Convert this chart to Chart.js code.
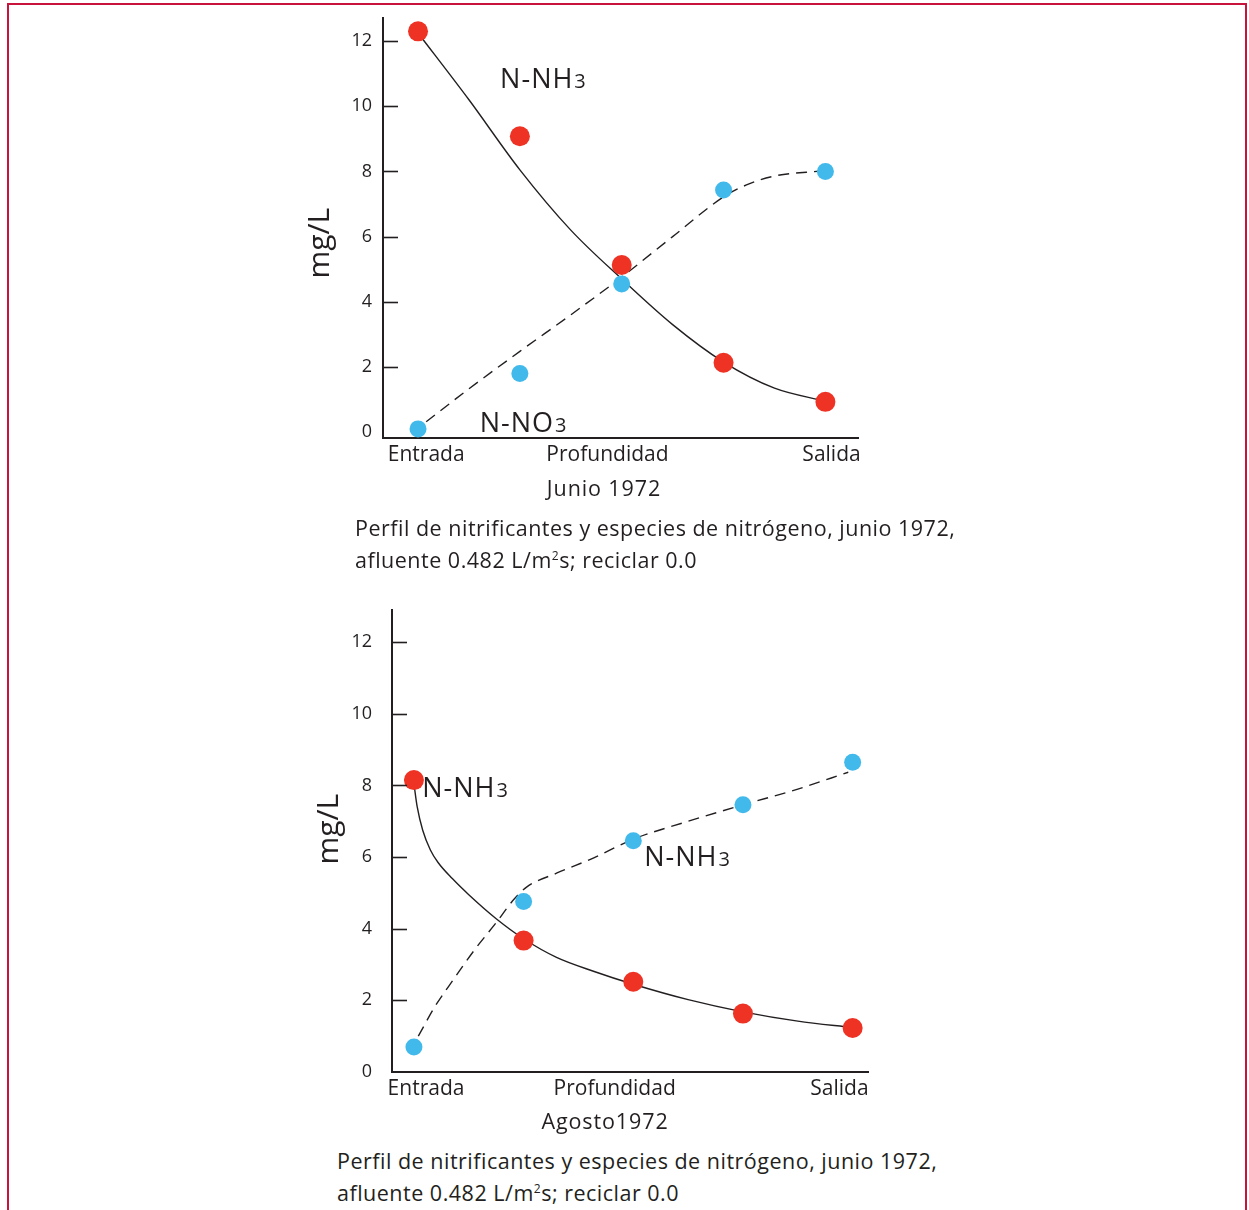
<!DOCTYPE html>
<html lang="es">
<head>
<meta charset="utf-8">
<title>Perfil de nitrificantes</title>
<script src="https://cdn.jsdelivr.net/npm/chart.js@4.4.1/dist/chart.umd.min.js"></script>
<style>
  html, body { margin: 0; padding: 0; background: #fff; width: 1249px; height: 1210px; overflow: hidden;
    font-family: 'Open Sans', 'Noto Sans', sans-serif; color: #231f20; }
  .frame { position: absolute; left: 7px; top: 3px; width: 1236px; height: 1300px; border: 2px solid #c8133c; }
  .panel { position: absolute; left: 0; width: 1249px; height: 520px; }
  .sub { position: absolute; font-size: 21.5px; letter-spacing: 0.9px; transform: translate(-50%, -50%); white-space: nowrap; }
  .cap { position: absolute; font-size: 21.5px; letter-spacing: 0.5px; line-height: 32px; white-space: nowrap; }
  .cap sup { font-size: 12px; vertical-align: 8px; line-height: 0; }
</style>
</head>
<body>
<div class="frame"></div>
<div class="panel" style="top:0"><canvas id="junio" width="1249" height="520"></canvas></div>
<div class="panel" style="top:591px"><canvas id="agosto" width="1249" height="520"></canvas></div>

<div class="sub" style="left:604px; top:487px">Junio 1972</div>
<div class="cap" style="left:355px; top:512px">Perfil de nitrificantes y especies de nitrógeno, junio 1972,<br>afluente 0.482 L/m<sup>2</sup>s; reciclar 0.0</div>

<div class="sub" style="left:605px; top:1120px">Agosto1972</div>
<div class="cap" style="left:337px; top:1145px">Perfil de nitrificantes y especies de nitrógeno, junio 1972,<br>afluente 0.482 L/m<sup>2</sup>s; reciclar 0.0</div>

<script>
// Sampling stations along the filter, inlet to outlet
const stations = [1, 2, 3, 4, 5];
const xTickLabels = ['Entrada', 'Profundidad', 'Salida'];
const yTickValues = [0, 2, 4, 6, 8, 10, 12];
const yAxisTitle = 'mg/L';

// June 1972 — measured concentrations (mg/L)
const junioNH3 = [12.3, 9.08, 5.13, 2.13, 0.93];
const junioNO3 = [0.1, 1.8, 4.55, 7.43, 8.0];
// June 1972 — hand-fitted trend curves
const junioNH3CurveX = [1, 1.5, 2, 2.5, 3, 3.5, 4, 4.5, 5];
const junioNH3CurveY = [12.25, 10.2, 8.05, 6.2, 4.7, 3.3, 2.15, 1.35, 0.95];
const junioNO3CurveX = [1.08, 1.5, 2, 2.5, 3, 3.5, 4, 4.25, 4.5, 4.97];
const junioNO3CurveY = [0.32, 1.33, 2.48, 3.6, 4.76, 6.0, 7.22, 7.62, 7.86, 8.02];

// August 1972 — measured concentrations (mg/L)
const agostoNH3 = [8.15, 3.67, 2.52, 1.63, 1.23];
const agostoNO3 = [0.7, 4.76, 6.46, 7.46, 8.65];
// August 1972 — hand-fitted trend curves
const agostoNH3CurveX = [1.0, 1.03, 1.08, 1.15, 1.22, 1.35, 1.5, 1.75, 2.0, 2.3, 2.65, 3.0, 3.5, 4.0, 4.5, 5.0];
const agostoNH3CurveY = [8.05, 7.4, 6.75, 6.2, 5.85, 5.4, 4.95, 4.28, 3.72, 3.2, 2.8, 2.45, 2.02, 1.68, 1.42, 1.24];
const agostoNO3CurveX = [1.04, 1.19, 1.36, 1.56, 1.76, 1.9, 2.03, 2.3, 2.64, 3.0, 3.5, 4.0, 4.5, 4.96];
const agostoNO3CurveY = [1.0, 1.82, 2.58, 3.44, 4.21, 4.78, 5.17, 5.55, 5.98, 6.5, 7.0, 7.46, 7.9, 8.37];

const INK = '#231f20';
const RED = '#ee3224';
const BLUE = '#41b9eb';
const FONT = "'Open Sans', 'Noto Sans', sans-serif";

// Inward y ticks, rotated y-axis title and in-plot species labels
const overlay = {
  id: 'overlay',
  afterDraw(chart, args, opts) {
    const { ctx, chartArea: ca, scales: { x, y } } = chart;
    ctx.save();
    ctx.strokeStyle = INK;
    ctx.lineWidth = 1.6;
    y.ticks.forEach(t => {
      if (t.value <= 0) return;
      const py = Math.round(y.getPixelForValue(t.value)) + 0.5;
      ctx.beginPath();
      ctx.moveTo(ca.left, py);
      ctx.lineTo(ca.left + opts.tickLength, py);
      ctx.stroke();
    });

    ctx.fillStyle = INK;
    ctx.save();
    ctx.translate(ca.left + opts.titleDx, y.getPixelForValue(opts.titleAt));
    ctx.rotate(-Math.PI / 2);
    ctx.font = `30px ${FONT}`;
    ctx.textAlign = 'center';
    ctx.textBaseline = 'middle';
    ctx.fillText(yAxisTitle, 0, 0);
    ctx.restore();

    ctx.textAlign = 'left';
    ctx.textBaseline = 'alphabetic';
    ctx.letterSpacing = '1px';
    opts.labels.forEach(l => {
      const px = x.getPixelForValue(l.x);
      const py = y.getPixelForValue(l.y);
      ctx.font = `27px ${FONT}`;
      ctx.fillText(l.main, px, py);
      const w = ctx.measureText(l.main).width;
      ctx.font = `20px ${FONT}`;
      ctx.fillText(l.small, px + w + 1, py);
    });
    ctx.restore();
  }
};

function pairs(xs, ys) {
  return xs.map((v, i) => ({ x: v, y: ys[i] }));
}

// Scales keep only the layout padding given in the options
function fixedBox(size, key) {
  return s => {
    s[key] = size;
    s.paddingTop = 0; s.paddingBottom = 0; s.paddingLeft = 0; s.paddingRight = 0;
  };
}

function makeChart(id, c) {
  return new Chart(document.getElementById(id), {
    type: 'scatter',
    data: {
      datasets: [
        { label: 'N-NH3', data: pairs(stations, c.nh3), pointRadius: 10, pointBackgroundColor: RED,
          pointBorderWidth: 0, showLine: false, clip: false },
        { label: 'N-NO3', data: pairs(stations, c.no3), pointRadius: 8.5, pointBackgroundColor: BLUE,
          pointBorderWidth: 0, showLine: false, clip: false },
        { label: 'N-NH3 tendencia', data: pairs(c.nh3CurveX, c.nh3CurveY), showLine: true, pointRadius: 0,
          borderColor: INK, borderWidth: 1.4, cubicInterpolationMode: 'monotone', clip: false },
        { label: 'N-NO3 tendencia', data: pairs(c.no3CurveX, c.no3CurveY), showLine: true, pointRadius: 0,
          borderColor: INK, borderWidth: 1.4, borderDash: [11, 7], cubicInterpolationMode: 'monotone', clip: false }
      ]
    },
    options: {
      responsive: false,
      animation: false,
      events: [],
      layout: { padding: c.padding },
      plugins: {
        legend: { display: false },
        tooltip: { enabled: false },
        overlay: c.overlay
      },
      scales: {
        x: {
          type: 'linear', min: c.xMin, max: c.xMax,
          afterBuildTicks: s => { s.ticks = c.xTicks.map(v => ({ value: v })); },
          afterFit: fixedBox(c.xAxisHeight, 'height'),
          grid: { display: false, drawTicks: false },
          border: { display: true, color: INK, width: 2 },
          ticks: { padding: 4, color: INK, font: { family: FONT, size: 21 }, maxRotation: 0, autoSkip: false,
                   callback: (v, i) => xTickLabels[i] }
        },
        y: {
          type: 'linear', min: c.yMin, max: c.yMax,
          afterBuildTicks: s => { s.ticks = yTickValues.map(v => ({ value: v })); },
          afterFit: fixedBox(80, 'width'),
          grid: { display: false, drawTicks: false },
          border: { display: true, color: INK, width: 2 },
          ticks: { padding: c.yTickPad, color: INK, font: { family: FONT, size: 18 }, autoSkip: false,
                   callback: v => String(v) }
        }
      }
    },
    plugins: [overlay]
  });
}

makeChart('junio', {
  nh3: junioNH3, no3: junioNO3,
  nh3CurveX: junioNH3CurveX, nh3CurveY: junioNH3CurveY,
  no3CurveX: junioNO3CurveX, no3CurveY: junioNO3CurveY,
  xMin: 0.656, xMax: 5.32, xTicks: [1.08, 2.86, 5.06],
  yMin: -0.18, yMax: 12.71, yTickPad: 11,
  padding: { left: 303, top: 18, right: 391, bottom: 42 }, xAxisHeight: 40,
  overlay: {
    tickLength: 15, titleDx: -63, titleAt: 5.8,
    labels: [
      { main: 'N-NH', small: '3', x: 1.806, y: 10.55 },
      { main: 'N-NO', small: '3', x: 1.606, y: 0.0 }
    ]
  }
});

makeChart('agosto', {
  nh3: agostoNH3, no3: agostoNO3,
  nh3CurveX: agostoNH3CurveX, nh3CurveY: agostoNH3CurveY,
  no3CurveX: agostoNO3CurveX, no3CurveY: agostoNO3CurveY,
  xMin: 0.80, xMax: 5.14, xTicks: [1.11, 2.83, 4.88],
  yMin: 0, yMax: 12.9, yTickPad: 20,
  padding: { left: 312, top: 19, right: 381, bottom: 3 }, xAxisHeight: 36,
  overlay: {
    tickLength: 15, titleDx: -63, titleAt: 6.78,
    labels: [
      { main: 'N-NH', small: '3', x: 1.075, y: 7.67 },
      { main: 'N-NH', small: '3', x: 3.10, y: 5.76 }
    ]
  }
});
</script>
</body>
</html>
